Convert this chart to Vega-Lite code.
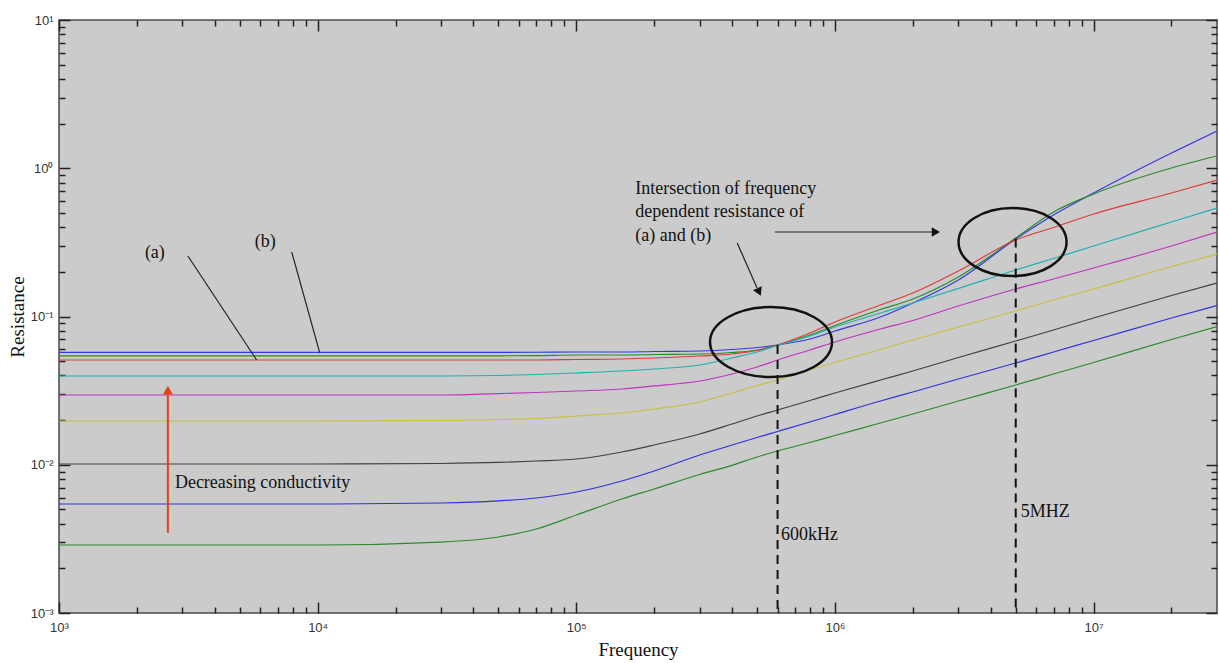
{
  "$schema": "https://vega.github.io/schema/vega-lite/v6.json",
  "width": 1158,
  "height": 593,
  "autosize": "none",
  "padding": {"left": 59, "top": 20, "right": 2, "bottom": 50},
  "background": "white",
  "config": {
    "view": {"fill": "#cbcbcb", "stroke": "#4a4a4a", "strokeWidth": 1.5},
    "axis": {"grid": false, "domain": false}
  },
  "datasets": {
    "curves": [
      {"s":"c1","f":1000,"R":0.0572},{"s":"c1","f":10000,"R":0.0572},{"s":"c1","f":30000,"R":0.0572},{"s":"c1","f":50000,"R":0.0573},{"s":"c1","f":70000,"R":0.0574},{"s":"c1","f":100000,"R":0.0576},{"s":"c1","f":150000,"R":0.0576},{"s":"c1","f":200000,"R":0.05805},{"s":"c1","f":300000,"R":0.05851},{"s":"c1","f":400000,"R":0.05988},{"s":"c1","f":500000,"R":0.06177},{"s":"c1","f":600000,"R":0.06425},{"s":"c1","f":800000,"R":0.07049},{"s":"c1","f":1000000,"R":0.07983},{"s":"c1","f":1500000,"R":0.09922},{"s":"c1","f":2000000,"R":0.1234},{"s":"c1","f":3000000,"R":0.1763},{"s":"c1","f":5000000,"R":0.3333},{"s":"c1","f":7000000,"R":0.4838},{"s":"c1","f":10000000,"R":0.6808},{"s":"c1","f":20000000,"R":1.267},{"s":"c1","f":30000000,"R":1.784},
      {"s":"c2","f":1000,"R":0.0542},{"s":"c2","f":10000,"R":0.0542},{"s":"c2","f":30000,"R":0.0542},{"s":"c2","f":50000,"R":0.0543},{"s":"c2","f":70000,"R":0.0545},{"s":"c2","f":100000,"R":0.05498},{"s":"c2","f":150000,"R":0.05498},{"s":"c2","f":200000,"R":0.0554},{"s":"c2","f":300000,"R":0.05585},{"s":"c2","f":400000,"R":0.05717},{"s":"c2","f":500000,"R":0.05943},{"s":"c2","f":600000,"R":0.06425},{"s":"c2","f":800000,"R":0.07502},{"s":"c2","f":1000000,"R":0.08697},{"s":"c2","f":1500000,"R":0.1115},{"s":"c2","f":2000000,"R":0.1312},{"s":"c2","f":3000000,"R":0.1846},{"s":"c2","f":5000000,"R":0.3384},{"s":"c2","f":7000000,"R":0.5069},{"s":"c2","f":10000000,"R":0.6703},{"s":"c2","f":20000000,"R":1.004},{"s":"c2","f":30000000,"R":1.21},
      {"s":"c3","f":1000,"R":0.0509},{"s":"c3","f":10000,"R":0.0509},{"s":"c3","f":30000,"R":0.0509},{"s":"c3","f":50000,"R":0.0509},{"s":"c3","f":70000,"R":0.0509},{"s":"c3","f":100000,"R":0.05127},{"s":"c3","f":150000,"R":0.05167},{"s":"c3","f":200000,"R":0.05248},{"s":"c3","f":300000,"R":0.05414},{"s":"c3","f":400000,"R":0.05585},{"s":"c3","f":500000,"R":0.05898},{"s":"c3","f":600000,"R":0.06425},{"s":"c3","f":800000,"R":0.07738},{"s":"c3","f":1000000,"R":0.09183},{"s":"c3","f":1500000,"R":0.1196},{"s":"c3","f":2000000,"R":0.144},{"s":"c3","f":3000000,"R":0.2027},{"s":"c3","f":5000000,"R":0.3281},{"s":"c3","f":7000000,"R":0.3985},{"s":"c3","f":10000000,"R":0.4912},{"s":"c3","f":20000000,"R":0.6808},{"s":"c3","f":30000000,"R":0.8331},
      {"s":"c4","f":1000,"R":0.0397},{"s":"c4","f":10000,"R":0.0397},{"s":"c4","f":30000,"R":0.0397},{"s":"c4","f":50000,"R":0.04},{"s":"c4","f":70000,"R":0.04062},{"s":"c4","f":100000,"R":0.04158},{"s":"c4","f":150000,"R":0.04289},{"s":"c4","f":200000,"R":0.04424},{"s":"c4","f":300000,"R":0.04709},{"s":"c4","f":400000,"R":0.05249},{"s":"c4","f":500000,"R":0.0576},{"s":"c4","f":600000,"R":0.06372},{"s":"c4","f":800000,"R":0.07387},{"s":"c4","f":1000000,"R":0.0849},{"s":"c4","f":1500000,"R":0.1056},{"s":"c4","f":2000000,"R":0.1234},{"s":"c4","f":3000000,"R":0.1545},{"s":"c4","f":5000000,"R":0.2059},{"s":"c4","f":7000000,"R":0.2461},{"s":"c4","f":10000000,"R":0.2989},{"s":"c4","f":20000000,"R":0.4339},{"s":"c4","f":30000000,"R":0.5393},
      {"s":"c5","f":1000,"R":0.02954},{"s":"c5","f":10000,"R":0.02954},{"s":"c5","f":30000,"R":0.02954},{"s":"c5","f":50000,"R":0.0302},{"s":"c5","f":70000,"R":0.03071},{"s":"c5","f":100000,"R":0.03144},{"s":"c5","f":150000,"R":0.03243},{"s":"c5","f":200000,"R":0.034},{"s":"c5","f":300000,"R":0.03671},{"s":"c5","f":400000,"R":0.04094},{"s":"c5","f":500000,"R":0.04564},{"s":"c5","f":600000,"R":0.05087},{"s":"c5","f":800000,"R":0.05943},{"s":"c5","f":1000000,"R":0.0673},{"s":"c5","f":1500000,"R":0.08235},{"s":"c5","f":2000000,"R":0.09397},{"s":"c5","f":3000000,"R":0.1177},{"s":"c5","f":5000000,"R":0.1533},{"s":"c5","f":7000000,"R":0.1791},{"s":"c5","f":10000000,"R":0.2124},{"s":"c5","f":20000000,"R":0.2989},{"s":"c5","f":30000000,"R":0.3715},
      {"s":"c6","f":1000,"R":0.01973},{"s":"c6","f":10000,"R":0.01973},{"s":"c6","f":30000,"R":0.01988},{"s":"c6","f":50000,"R":0.0202},{"s":"c6","f":70000,"R":0.02051},{"s":"c6","f":100000,"R":0.02132},{"s":"c6","f":150000,"R":0.02234},{"s":"c6","f":200000,"R":0.02377},{"s":"c6","f":300000,"R":0.0265},{"s":"c6","f":400000,"R":0.03048},{"s":"c6","f":500000,"R":0.03424},{"s":"c6","f":600000,"R":0.03729},{"s":"c6","f":800000,"R":0.04357},{"s":"c6","f":1000000,"R":0.04894},{"s":"c6","f":1500000,"R":0.05989},{"s":"c6","f":2000000,"R":0.06944},{"s":"c6","f":3000000,"R":0.0849},{"s":"c6","f":5000000,"R":0.1089},{"s":"c6","f":7000000,"R":0.1292},{"s":"c6","f":10000000,"R":0.1533},{"s":"c6","f":20000000,"R":0.2175},{"s":"c6","f":30000000,"R":0.2639},
      {"s":"c7","f":1000,"R":0.01012},{"s":"c7","f":10000,"R":0.01012},{"s":"c7","f":30000,"R":0.0102},{"s":"c7","f":50000,"R":0.01036},{"s":"c7","f":70000,"R":0.0106},{"s":"c7","f":100000,"R":0.01093},{"s":"c7","f":150000,"R":0.01219},{"s":"c7","f":200000,"R":0.01359},{"s":"c7","f":300000,"R":0.01612},{"s":"c7","f":400000,"R":0.01883},{"s":"c7","f":500000,"R":0.02132},{"s":"c7","f":600000,"R":0.0234},{"s":"c7","f":800000,"R":0.02713},{"s":"c7","f":1000000,"R":0.03048},{"s":"c7","f":1500000,"R":0.03729},{"s":"c7","f":2000000,"R":0.04289},{"s":"c7","f":3000000,"R":0.05291},{"s":"c7","f":5000000,"R":0.06836},{"s":"c7","f":7000000,"R":0.08108},{"s":"c7","f":10000000,"R":0.0977},{"s":"c7","f":20000000,"R":0.1386},{"s":"c7","f":30000000,"R":0.1683},
      {"s":"c8","f":1000,"R":0.005435},{"s":"c8","f":10000,"R":0.005435},{"s":"c8","f":30000,"R":0.00552},{"s":"c8","f":50000,"R":0.0057},{"s":"c8","f":70000,"R":0.005968},{"s":"c8","f":100000,"R":0.006549},{"s":"c8","f":150000,"R":0.007772},{"s":"c8","f":200000,"R":0.009076},{"s":"c8","f":300000,"R":0.01163},{"s":"c8","f":400000,"R":0.01358},{"s":"c8","f":500000,"R":0.01527},{"s":"c8","f":600000,"R":0.01676},{"s":"c8","f":800000,"R":0.01943},{"s":"c8","f":1000000,"R":0.02183},{"s":"c8","f":1500000,"R":0.02692},{"s":"c8","f":2000000,"R":0.03095},{"s":"c8","f":3000000,"R":0.03788},{"s":"c8","f":5000000,"R":0.04858},{"s":"c8","f":7000000,"R":0.0576},{"s":"c8","f":10000000,"R":0.06889},{"s":"c8","f":20000000,"R":0.0977},{"s":"c8","f":30000000,"R":0.1186},
      {"s":"c9","f":1000,"R":0.002875},{"s":"c9","f":10000,"R":0.002875},{"s":"c9","f":30000,"R":0.00301},{"s":"c9","f":50000,"R":0.003256},{"s":"c9","f":70000,"R":0.003686},{"s":"c9","f":100000,"R":0.004581},{"s":"c9","f":150000,"R":0.005875},{"s":"c9","f":200000,"R":0.006862},{"s":"c9","f":300000,"R":0.0086},{"s":"c9","f":400000,"R":0.0099},{"s":"c9","f":500000,"R":0.01128},{"s":"c9","f":600000,"R":0.01238},{"s":"c9","f":800000,"R":0.01413},{"s":"c9","f":1000000,"R":0.01575},{"s":"c9","f":1500000,"R":0.01912},{"s":"c9","f":2000000,"R":0.02199},{"s":"c9","f":3000000,"R":0.02692},{"s":"c9","f":5000000,"R":0.0345},{"s":"c9","f":7000000,"R":0.04094},{"s":"c9","f":10000000,"R":0.04894},{"s":"c9","f":20000000,"R":0.07},{"s":"c9","f":30000000,"R":0.0856}
    ],
    "dashed": [
      {"id":"600k","f":600000,"R":0.0642},{"id":"600k","f":600000,"R":0.001},
      {"id":"5M","f":5000000,"R":0.336},{"id":"5M","f":5000000,"R":0.001}
    ],
    "pointers": [
      {"id":"a","f":3150,"R":0.256},{"id":"a","f":5810,"R":0.0509},
      {"id":"b","f":7940,"R":0.272},{"id":"b","f":10190,"R":0.0568},
      {"id":"h","f":586000,"R":0.3715},{"id":"h","f":2410000,"R":0.3715},
      {"id":"d","f":419000,"R":0.313},{"id":"d","f":500000,"R":0.1557}
    ],
    "ellipse1": [{"f":566000,"R":0.0673}],
    "ellipse2": [{"f":4860000,"R":0.318}],
    "headRight": [{"f":2455000,"R":0.3715}],
    "headDiag": [{"f":509000,"R":0.1463}],
    "redShaft": [{"f":2636,"R":0.00347},{"f":2636,"R":0.031}],
    "headUp": [{"f":2636,"R":0.0319}],
    "labels": [
      {"t":"(a)","f":2148,"R":0.268},
      {"t":"(b)","f":5715,"R":0.318},
      {"t":"Intersection of frequency","f":169000,"R":0.724},
      {"t":"dependent resistance of","f":169000,"R":0.507},
      {"t":"(a) and (b)","f":169000,"R":0.349},
      {"t":"Decreasing conductivity","f":2806,"R":0.00753},
      {"t":"600kHz","f":619000,"R":0.00336},
      {"t":"5MHZ","f":5230000,"R":0.0048}
    ]
  },
  "resolve": {"axis": {"x": "independent", "y": "independent"}},
  "layer": [
    {
      "data": {"name": "curves"},
      "mark": {"type": "line", "strokeWidth": 1.2, "interpolate": "monotone", "clip": true},
      "encoding": {
        "x": {"field": "f", "type": "quantitative",
          "scale": {"type": "log", "domain": [1000, 30000000], "nice": false},
          "axis": {"orient": "bottom",
            "values": [1000,2000,3000,4000,5000,6000,7000,8000,9000,10000,20000,30000,40000,50000,60000,70000,80000,90000,100000,200000,300000,400000,500000,600000,700000,800000,900000,1000000,2000000,3000000,4000000,5000000,6000000,7000000,8000000,9000000,10000000,20000000],
            "ticks": true, "tickColor": "#222", "tickWidth": 1.5,
            "tickSize": {"condition": {"test": "abs(log(datum.value)/LN10 - round(log(datum.value)/LN10)) < 0.001", "value": -11}, "value": -6},
            "labelFlush": false, "labelOverlap": false, "labelBound": false,
            "labelExpr": "abs(log(datum.value)/LN10 - round(log(datum.value)/LN10)) < 0.001 ? '10' + ['³','⁴','⁵','⁶','⁷'][round(log(datum.value)/LN10)-3] : ''",
            "labelFont": "Liberation Sans", "labelFontSize": 13, "labelColor": "#333", "labelPadding": 19,
            "title": "Frequency", "titleFont": "Liberation Serif", "titleFontSize": 19, "titleFontWeight": "normal", "titleColor": "#111", "titlePadding": 1}},
        "y": {"field": "R", "type": "quantitative",
          "scale": {"type": "log", "domain": [0.001, 10], "nice": false},
          "axis": {"orient": "left",
            "values": [0.001,0.002,0.003,0.004,0.005,0.006,0.007,0.008,0.009,0.01,0.02,0.03,0.04,0.05,0.06,0.07,0.08,0.09,0.1,0.2,0.3,0.4,0.5,0.6,0.7,0.8,0.9,1,2,3,4,5,6,7,8,9,10],
            "ticks": true, "tickColor": "#222", "tickWidth": 1.5,
            "tickSize": {"condition": {"test": "abs(log(datum.value)/LN10 - round(log(datum.value)/LN10)) < 0.001", "value": -11}, "value": -6},
            "labelFlush": false, "labelOverlap": false, "labelBound": false,
            "labelExpr": "abs(log(datum.value)/LN10 - round(log(datum.value)/LN10)) < 0.001 ? '10' + ['⁻³','⁻²','⁻¹','⁰','¹'][round(log(datum.value)/LN10)+3] : ''",
            "labelFont": "Liberation Sans", "labelFontSize": 13, "labelColor": "#333", "labelPadding": 17,
            "title": "Resistance", "titleFont": "Liberation Serif", "titleFontSize": 19, "titleFontWeight": "normal", "titleColor": "#111", "titlePadding": 3}},
        "color": {"field": "s", "type": "nominal", "legend": null,
          "scale": {"domain": ["c1","c2","c3","c4","c5","c6","c7","c8","c9"],
                    "range": ["#3838e6","#2b8a2b","#e03a3a","#22b0b0","#c034c0","#c8c040","#404040","#3030dc","#2b8a2b"]}},
        "order": {"field": "f", "type": "quantitative"}
      }
    },
    {
      "data": {"name": "dashed"},
      "mark": {"type": "line", "color": "#111", "strokeWidth": 2, "strokeDash": [9, 6]},
      "encoding": {
        "x": {"field": "f", "type": "quantitative", "scale": {"type": "log", "domain": [1000, 30000000], "nice": false},
          "axis": {"orient": "top",
            "values": [1000,2000,3000,4000,5000,6000,7000,8000,9000,10000,20000,30000,40000,50000,60000,70000,80000,90000,100000,200000,300000,400000,500000,600000,700000,800000,900000,1000000,2000000,3000000,4000000,5000000,6000000,7000000,8000000,9000000,10000000,20000000],
            "labels": false, "ticks": true, "tickColor": "#222", "tickWidth": 1.5,
            "tickSize": {"condition": {"test": "abs(log(datum.value)/LN10 - round(log(datum.value)/LN10)) < 0.001", "value": -11}, "value": -6},
            "title": null}},
        "y": {"field": "R", "type": "quantitative", "scale": {"type": "log", "domain": [0.001, 10], "nice": false},
          "axis": {"orient": "right",
            "values": [0.001,0.002,0.003,0.004,0.005,0.006,0.007,0.008,0.009,0.01,0.02,0.03,0.04,0.05,0.06,0.07,0.08,0.09,0.1,0.2,0.3,0.4,0.5,0.6,0.7,0.8,0.9,1,2,3,4,5,6,7,8,9,10],
            "labels": false, "ticks": true, "tickColor": "#222", "tickWidth": 1.5,
            "tickSize": {"condition": {"test": "abs(log(datum.value)/LN10 - round(log(datum.value)/LN10)) < 0.001", "value": -11}, "value": -6},
            "title": null}},
        "detail": {"field": "id"}
      }
    },
    {
      "data": {"name": "pointers"},
      "mark": {"type": "line", "color": "#222", "strokeWidth": 1.2},
      "encoding": {
        "x": {"field": "f", "type": "quantitative", "scale": {"type": "log", "domain": [1000, 30000000], "nice": false}, "axis": null},
        "y": {"field": "R", "type": "quantitative", "scale": {"type": "log", "domain": [0.001, 10], "nice": false}, "axis": null},
        "detail": {"field": "id"}
      }
    },
    {
      "data": {"name": "ellipse1"},
      "mark": {"type": "point", "filled": false, "stroke": "#111", "strokeWidth": 2.5, "opacity": 1, "size": 14884,
        "shape": "M 1 0 C 1 0.317 0.552 0.574 0 0.574 C -0.552 0.574 -1 0.317 -1 0 C -1 -0.317 -0.552 -0.574 0 -0.574 C 0.552 -0.574 1 -0.317 1 0 Z"},
      "encoding": {
        "x": {"field": "f", "type": "quantitative", "scale": {"type": "log", "domain": [1000, 30000000], "nice": false}, "axis": null},
        "y": {"field": "R", "type": "quantitative", "scale": {"type": "log", "domain": [0.001, 10], "nice": false}, "axis": null}
      }
    },
    {
      "data": {"name": "ellipse2"},
      "mark": {"type": "point", "filled": false, "stroke": "#111", "strokeWidth": 2.5, "opacity": 1, "size": 11664,
        "shape": "M 1 0 C 1 0.348 0.552 0.63 0 0.63 C -0.552 0.63 -1 0.348 -1 0 C -1 -0.348 -0.552 -0.63 0 -0.63 C 0.552 -0.63 1 -0.348 1 0 Z"},
      "encoding": {
        "x": {"field": "f", "type": "quantitative", "scale": {"type": "log", "domain": [1000, 30000000], "nice": false}, "axis": null},
        "y": {"field": "R", "type": "quantitative", "scale": {"type": "log", "domain": [0.001, 10], "nice": false}, "axis": null}
      }
    },
    {
      "data": {"name": "headRight"},
      "mark": {"type": "point", "shape": "triangle-right", "filled": true, "color": "#111", "opacity": 1, "size": 90},
      "encoding": {
        "x": {"field": "f", "type": "quantitative", "scale": {"type": "log", "domain": [1000, 30000000], "nice": false}, "axis": null},
        "y": {"field": "R", "type": "quantitative", "scale": {"type": "log", "domain": [0.001, 10], "nice": false}, "axis": null}
      }
    },
    {
      "data": {"name": "headDiag"},
      "mark": {"type": "point", "shape": "triangle-down", "angle": 336, "filled": true, "color": "#111", "opacity": 1, "size": 90},
      "encoding": {
        "x": {"field": "f", "type": "quantitative", "scale": {"type": "log", "domain": [1000, 30000000], "nice": false}, "axis": null},
        "y": {"field": "R", "type": "quantitative", "scale": {"type": "log", "domain": [0.001, 10], "nice": false}, "axis": null}
      }
    },
    {
      "data": {"name": "redShaft"},
      "mark": {"type": "line", "color": "#e0441c", "strokeWidth": 2},
      "encoding": {
        "x": {"field": "f", "type": "quantitative", "scale": {"type": "log", "domain": [1000, 30000000], "nice": false}, "axis": null},
        "y": {"field": "R", "type": "quantitative", "scale": {"type": "log", "domain": [0.001, 10], "nice": false}, "axis": null}
      }
    },
    {
      "data": {"name": "headUp"},
      "mark": {"type": "point", "shape": "triangle-up", "filled": true, "color": "#e0441c", "opacity": 1, "size": 100},
      "encoding": {
        "x": {"field": "f", "type": "quantitative", "scale": {"type": "log", "domain": [1000, 30000000], "nice": false}, "axis": null},
        "y": {"field": "R", "type": "quantitative", "scale": {"type": "log", "domain": [0.001, 10], "nice": false}, "axis": null}
      }
    },
    {
      "data": {"name": "labels"},
      "mark": {"type": "text", "align": "left", "baseline": "middle", "font": "Liberation Serif", "fontSize": 18, "color": "#111"},
      "encoding": {
        "x": {"field": "f", "type": "quantitative", "scale": {"type": "log", "domain": [1000, 30000000], "nice": false}, "axis": null},
        "y": {"field": "R", "type": "quantitative", "scale": {"type": "log", "domain": [0.001, 10], "nice": false}, "axis": null},
        "text": {"field": "t"}
      }
    }
  ]
}
